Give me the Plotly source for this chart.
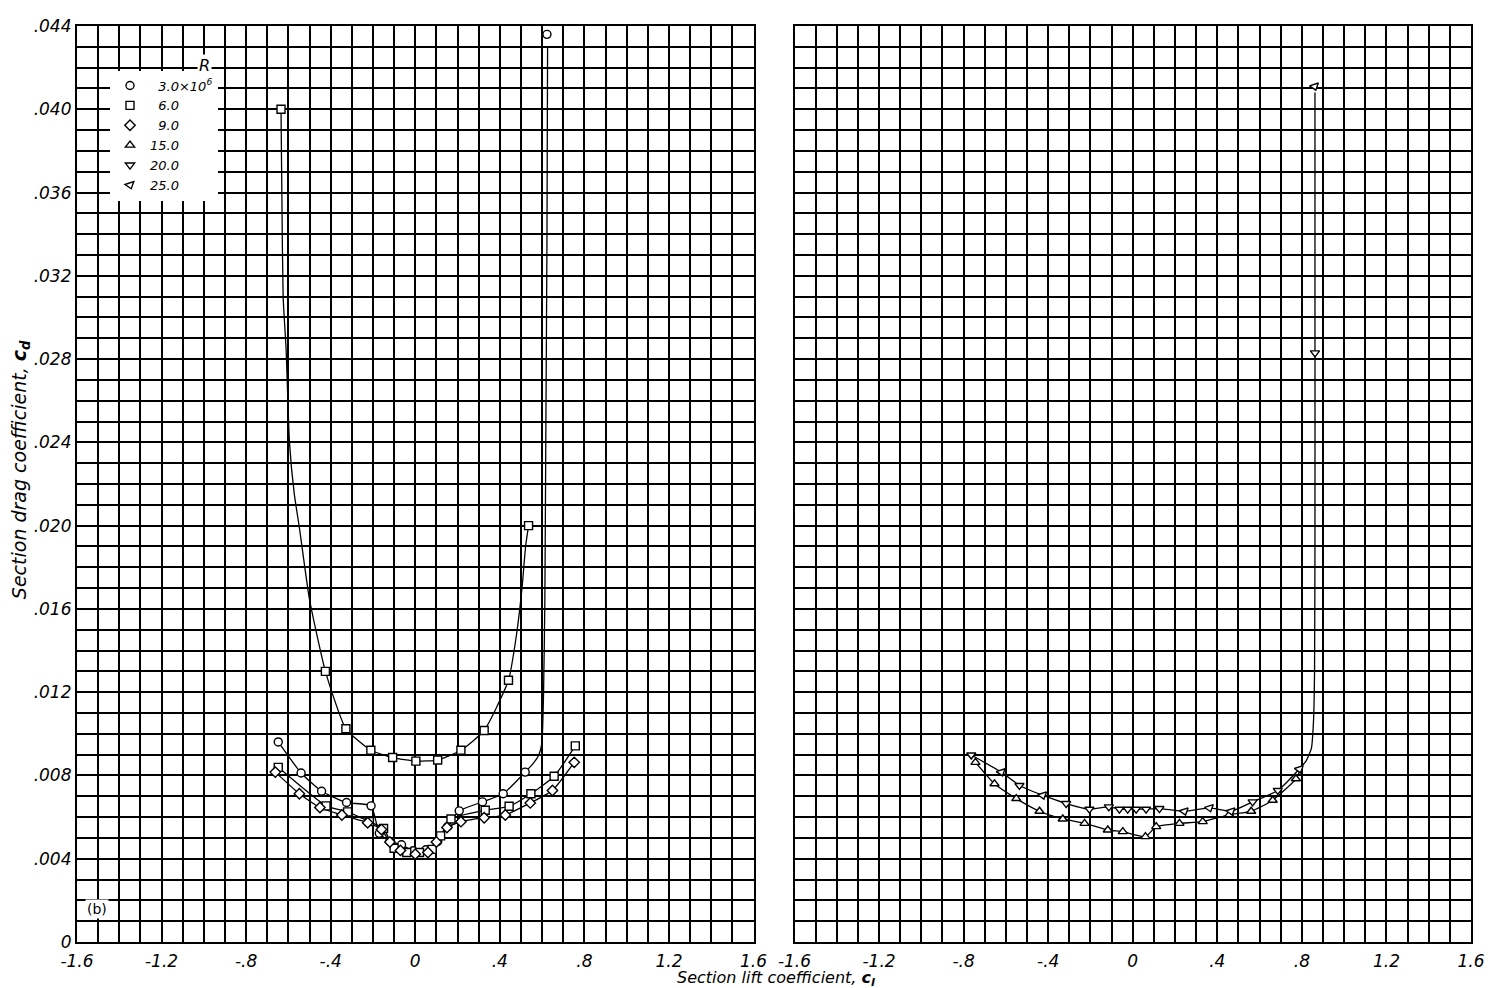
import plotly.graph_objects as go
from plotly.subplots import make_subplots

# ---------------- data ----------------
# Left panel, R = 3.0e6 (circles)
cl_r3 = [-0.648, -0.540, -0.443, -0.325, -0.209, -0.170, -0.120, -0.065, -0.010, 0.050, 0.106, 0.153, 0.208, 0.318, 0.416, 0.520, 0.623]
cd_r3 = [0.00961, 0.00812, 0.00724, 0.00670, 0.00654, 0.00522, 0.00483, 0.00467, 0.00438, 0.00443, 0.00483, 0.00554, 0.00630, 0.00673, 0.00712, 0.00816, 0.0436]
# faired stall branch of the R = 3.0e6 curve
cl_r3_fair = [0.520, 0.560, 0.585, 0.599, 0.607, 0.613, 0.618, 0.623, 0.626]
cd_r3_fair = [0.00816, 0.0086, 0.0090, 0.00955, 0.0120, 0.0164, 0.0250, 0.0337, 0.0430]

# Left panel, R = 6.0e6 (squares)
cl_r6 = [-0.648, -0.422, -0.320, -0.217, -0.150, -0.100, -0.040, 0.020, 0.080, 0.120, 0.169, 0.331, 0.444, 0.547, 0.657, 0.757]
cd_r6 = [0.00839, 0.00654, 0.00625, 0.00578, 0.00545, 0.00450, 0.00430, 0.00430, 0.00445, 0.00510, 0.00591, 0.00633, 0.00652, 0.00712, 0.00796, 0.00942]

# Left panel, R = 6.0e6 upper curve (flagged squares)
cl_r6u = [-0.635, -0.425, -0.328, -0.210, -0.107, 0.003, 0.106, 0.216, 0.326, 0.441, 0.536]
cd_r6u = [0.0400, 0.0130, 0.01024, 0.00921, 0.00886, 0.00869, 0.00874, 0.00921, 0.01016, 0.01257, 0.0200]
cl_r6u_fair_left = [-0.635, -0.631, -0.625, -0.611, -0.595, -0.572, -0.548, -0.501]
cd_r6u_fair_left = [0.0400, 0.0360, 0.0310, 0.0285, 0.0240, 0.0215, 0.0199, 0.0165]
cl_r6u_fair_right = [0.478, 0.505, 0.522]
cd_r6u_fair_right = [0.0147, 0.0170, 0.0190]

# Left panel, R = 9.0e6 (diamonds)
cl_r9 = [-0.662, -0.548, -0.451, -0.347, -0.225, -0.160, -0.120, -0.070, 0.000, 0.060, 0.100, 0.150, 0.216, 0.326, 0.426, 0.544, 0.649, 0.752]
cd_r9 = [0.00816, 0.00712, 0.00646, 0.00610, 0.00573, 0.00540, 0.00480, 0.00440, 0.00422, 0.00430, 0.00480, 0.00550, 0.00578, 0.00597, 0.00610, 0.00668, 0.00728, 0.00863]

# Right panel, R = 15.0e6 (triangles)
cl_r15 = [-0.744, -0.654, -0.551, -0.441, -0.331, -0.228, -0.118, -0.047, 0.060, 0.111, 0.221, 0.331, 0.457, 0.560, 0.662, 0.772]
cd_r15 = [0.00863, 0.00760, 0.00689, 0.00628, 0.00591, 0.00570, 0.00538, 0.00530, 0.00506, 0.00554, 0.00570, 0.00578, 0.00612, 0.00628, 0.00681, 0.00784]
cl_r15_end = [0.805]
cd_r15_end = [0.0086]

# Right panel, R = 20.0e6 (inverted triangles)
cl_r20 = [-0.764, -0.536, -0.315, -0.205, -0.113, -0.063, -0.024, 0.016, 0.063, 0.126, 0.567, 0.686, 0.862]
cd_r20 = [0.00898, 0.00752, 0.00665, 0.00638, 0.00649, 0.00638, 0.00638, 0.00638, 0.00638, 0.00641, 0.00673, 0.00728, 0.0283]

# Right panel, R = 25.0e6 (flagged inverted triangles)
cl_r25 = [-0.622, -0.426, 0.244, 0.363, 0.465, 0.788, 0.860]
cd_r25 = [0.00816, 0.00705, 0.00628, 0.00644, 0.00628, 0.00831, 0.0411]
cl_r20_fair = [0.820, 0.845, 0.855, 0.860, 0.862, 0.862, 0.862]
cd_r20_fair = [0.0087, 0.0093, 0.0106, 0.0130, 0.0200, 0.0300, 0.0408]

x_tickvals = [-1.6, -1.2, -0.8, -0.4, 0.0, 0.4, 0.8, 1.2, 1.6]
x_ticktext = ["-1.6", "-1.2", "-.8", "-.4", "0", ".4", ".8", "1.2", "1.6"]
y_tickvals = [0, 0.004, 0.008, 0.012, 0.016, 0.020, 0.024, 0.028, 0.032, 0.036, 0.040, 0.044]
y_ticktext = ["0", ".004", ".008", ".012", ".016", ".020", ".024", ".028", ".032", ".036", ".040", ".044"]

legend_names = {
    "r3": "\u20073.0\u00d710<sup>6</sup>",
    "r6": "\u20076.0",
    "r9": "\u20079.0",
    "r15": "15.0",
    "r20": "20.0",
    "r25": "25.0",
}

# ---------------- figure ----------------
# The page adds an 8 px body margin, so the figure is 8 px smaller and margins are offset.
FONT = "DejaVu Sans"
PW, PH = 1394, 926          # plot-area size in pixels
fig = make_subplots(rows=1, cols=2, shared_yaxes=True, horizontal_spacing=41 / PW)

LINE = dict(color="black", width=1.3, shape="spline", smoothing=0.5)


def mk(symbol, angle=0):
    return dict(symbol=symbol, size=8, color="white", angle=angle,
                line=dict(color="black", width=1.4))


def merged(xs_list, ys_list, cap=1.0):
    pts = sorted((x, y) for xs, ys in zip(xs_list, ys_list) for x, y in zip(xs, ys) if y < cap)
    return [p[0] for p in pts], [p[1] for p in pts]


# --- left panel lines ---
lx, ly = merged([cl_r3], [cd_r3], cap=0.02)
lx = lx[:-1] + cl_r3_fair
ly = ly[:-1] + cd_r3_fair
fig.add_trace(go.Scatter(x=lx, y=ly, mode="lines", line=LINE, showlegend=False, hoverinfo="skip"), 1, 1)

fig.add_trace(go.Scatter(x=cl_r6, y=cd_r6, mode="lines", line=LINE, showlegend=False, hoverinfo="skip"), 1, 1)
fig.add_trace(go.Scatter(x=cl_r9, y=cd_r9, mode="lines", line=LINE, showlegend=False, hoverinfo="skip"), 1, 1)

ux, uy = merged([cl_r6u], [cd_r6u], cap=0.015)
ux = cl_r6u_fair_left + ux + cl_r6u_fair_right + [cl_r6u[-1]]
uy = cd_r6u_fair_left + uy + cd_r6u_fair_right + [cd_r6u[-1]]
fig.add_trace(go.Scatter(x=ux, y=uy, mode="lines", line=LINE, showlegend=False, hoverinfo="skip"), 1, 1)

# --- right panel lines ---
fig.add_trace(go.Scatter(x=cl_r15 + cl_r15_end, y=cd_r15 + cd_r15_end, mode="lines", line=LINE,
                         showlegend=False, hoverinfo="skip"), 1, 2)
rx, ry = merged([cl_r20, cl_r25], [cd_r20, cd_r25], cap=0.012)
rx = rx + cl_r20_fair
ry = ry + cd_r20_fair
fig.add_trace(go.Scatter(x=rx, y=ry, mode="lines", line=LINE, showlegend=False, hoverinfo="skip"), 1, 2)

# --- markers ---
fig.add_trace(go.Scatter(x=cl_r3, y=cd_r3, mode="markers", marker=mk("circle"), name=legend_names["r3"]), 1, 1)
fig.add_trace(go.Scatter(x=cl_r6, y=cd_r6, mode="markers", marker=mk("square"), name=legend_names["r6"]), 1, 1)
fig.add_trace(go.Scatter(x=cl_r9, y=cd_r9, mode="markers", marker=mk("diamond"), name=legend_names["r9"]), 1, 1)
fig.add_trace(go.Scatter(x=cl_r15, y=cd_r15, mode="markers", marker=mk("triangle-up"), name=legend_names["r15"]), 1, 2)
fig.add_trace(go.Scatter(x=cl_r20, y=cd_r20, mode="markers", marker=mk("triangle-down"), name=legend_names["r20"]), 1, 2)
fig.add_trace(go.Scatter(x=cl_r25, y=cd_r25, mode="markers", marker=mk("triangle-down", angle=-18), name=legend_names["r25"]), 1, 2)
fig.add_trace(go.Scatter(x=cl_r6u, y=cd_r6u, mode="markers", marker=mk("square"), showlegend=False), 1, 1)

tickfont = dict(family=FONT, size=17, color="black", style="italic")
for col in (1, 2):
    fig.update_xaxes(
        range=[-1.6, 1.6], tickvals=x_tickvals, ticktext=x_ticktext, tickfont=tickfont,
        showgrid=True, gridcolor="black", gridwidth=2.2, zeroline=False,
        minor=dict(dtick=0.1, tick0=0, showgrid=True, gridcolor="black", gridwidth=1.5),
        showline=True, linecolor="black", linewidth=2.2, mirror=True, ticks="",
        ticklabeloverflow="allow", ticklabelstandoff=2,
        row=1, col=col,
    )
    fig.update_yaxes(
        range=[0, 0.044], tickvals=y_tickvals, ticktext=y_ticktext, tickfont=tickfont,
        showgrid=True, gridcolor="black", gridwidth=2.2, zeroline=False,
        minor=dict(dtick=0.001, tick0=0, showgrid=True, gridcolor="black", gridwidth=1.5),
        showline=True, linecolor="black", linewidth=2.2, mirror=True, ticks="",
        ticklabeloverflow="allow",
        row=1, col=col,
    )
fig.update_yaxes(showticklabels=False, row=1, col=2)

PAGE_X0, PAGE_Y0 = 77, 16   # plot-area top-left corner in page pixels

fig.update_layout(
    width=1487, height=980,
    margin=dict(l=69, r=24, t=8, b=46),
    paper_bgcolor="white", plot_bgcolor="white",
    font=dict(family=FONT, color="black", style="italic"),
    showlegend=True,
    legend=dict(
        x=(110 - PAGE_X0) / PW, y=1 - (61 - PAGE_Y0) / PH, xanchor="left", yanchor="top",
        bgcolor="white", borderwidth=0, tracegroupgap=0,
        font=dict(family=FONT, size=13, color="black", style="italic"),
        itemwidth=30,
    ),
    annotations=[
        dict(text="R", x=-0.995, y=0.0421, xref="x", yref="y", showarrow=False,
             font=dict(family=FONT, size=16, style="italic"), bgcolor="white"),
        dict(text="(b)", x=-1.505, y=0.0016, xref="x", yref="y", showarrow=False,
             font=dict(family=FONT, size=14, style="normal"), bgcolor="white"),
        dict(text="Section drag coefficient, <b>c<sub>d</sub></b>", textangle=-90,
             x=(20 - PAGE_X0) / PW, xanchor="center", y=(942 - 465) / PH, yref="paper", xref="paper",
             showarrow=False, font=dict(family=FONT, size=19, style="italic")),
        dict(text="Section lift coefficient, <b>c<sub>l</sub></b>",
             x=(776 - PAGE_X0) / PW, y=-(979 - 942) / PH,
             xref="paper", yref="paper", yanchor="middle", showarrow=False,
             font=dict(family=FONT, size=16, style="italic")),
    ],
)

fig.write_html("out.html")
